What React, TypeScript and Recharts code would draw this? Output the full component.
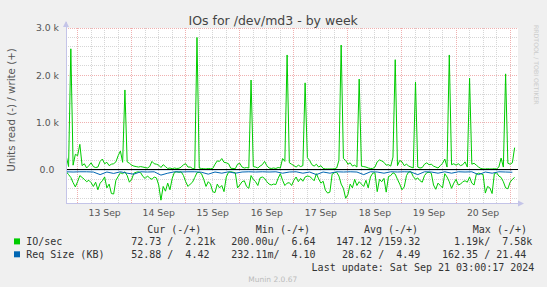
import React from 'react';
import { ComposedChart, Line, XAxis, YAxis, CartesianGrid, ReferenceLine } from 'recharts';

const SANS = '"DejaVu Sans", sans-serif';
const MONO = '"DejaVu Sans Mono", monospace';

const title = 'IOs for /dev/md3 - by week';
const yLabel = 'Units read (-) / write (+)';

// hourly samples, hour 0 = 13 Sep 00:00
const FIRST_HOUR = -5;

// IO/sec, write (+)
const writeIO = [
  282, 70, 2560, 100, 330, 300, 540, 90, 130, 40, 90, 150, 70,
  50, 60, 180, 230, 130, 160, 90, 120, 130, 170, 300, 400, 160, 1690, 170, 140, 100, 80, 70, 60, 70,
  60, 50, 40, 70, 180, 130, 120, 100, 50, 110, 70, 30, 40, 25, 40, 30, 35, 60, 110, 130, 60,
  60, 30, 20, 2800, 40, 30, 25, 20, 30, 25, 30, 120, 190, 180, 240, 160, 150, 130, 35, 30, 25,
  120, 140, 60, 40, 50, 40, 1900, 70, 60, 40, 80, 110, 180, 90, 40, 30, 40, 30, 50, 40,
  240, 180, 2430, 150, 120, 90, 60, 100, 70, 90, 1840, 260, 200, 110, 80, 120, 60, 90, 30, 20, 20,
  20, 20, 25, 40, 200, 2640, 240, 200, 120, 150, 80, 100, 60, 1920, 80, 70, 60, 40, 30, 30, 60,
  170, 210, 190, 160, 100, 110, 80, 270, 2330, 90, 200, 170, 90, 120, 80, 60, 40, 1860, 60, 40, 50,
  120, 150, 110, 120, 80, 60, 40, 90, 140, 230, 60, 2430, 110, 130, 100, 130, 90, 110, 170, 60, 1940,
  120, 140, 100, 60, 30, 20, 20, 25, 20, 20, 25, 20, 60, 250, 60, 2030, 140, 120, 150, 470,
];

// IO/sec, read (-)
const readIO = [
  -40, -100, -160, -270, -360, -250, -120, -160, -200, -250, -220, -270, -350,
  -260, -420, -280, -230, -150, -380, -300, -500, -510, -220, -140, -60, -80, -40, -120, -260, -200, -70, -50, -40, -60,
  -140, -180, -130, -170, -200, -150, -170, -320, -640, -350, -450, -280, -420, -180, -50, -40, -50, -40, -120, -250, -350,
  -300, -260, -160, -60, -50, -80, -200, -350, -250, -300, -460, -480, -300, -380, -330, -460, -150, -50, -40, -50, -60,
  -380, -320, -250, -230, -350, -390, -120, -200, -250, -330, -170, -150, -180, -250, -300, -320, -300, -310, -180, -80,
  -220, -330, -280, -270, -330, -220, -150, -250, -180, -240, -150, -130, -140, -180, -230, -80, -190, -280, -240, -430, -490,
  -470, -90, -60, -50, -130, -300, -390, -600, -520, -300, -380, -200, -330, -250, -300, -350, -220, -380, -150, -70, -60,
  -460, -200, -250, -180, -470, -140, -120, -60, -90, -200, -300, -420, -360, -120, -40, -40, -140, -200, -170, -230, -260,
  -120, -60, -50, -70, -320, -410, -280, -330, -380, -80, -150, -250, -390, -280, -200, -320, -300, -250, -230, -260, -150,
  -280, -320, -90, -70, -80, -100, -490, -350, -380, -500, -80, -60, -130, -160, -250, -380, -400, -260, -200, -160,
];

// Req Size (KB), read (-), every 3 hours
const sizeRead = [
  -40, -45, -40, -40, -45, -100, -45, -75, -40, -70,
  -90, -40, -45, -40, -110, -70, -40, -45, -40, -40,
  -50, -90, -45, -70, -40, -70, -45, -40, -45, -40,
  -45, -40, -70, -45, -40, -70, -45, -100, -45, -70,
  -40, -45, -40, -45, -100, -40, -45, -70, -40, -45,
  -40, -45, -100, -40, -45, -70, -40, -70, -40, -45,
  -40, -100, -45, -70, -40, -45, -50,
];

// Req Size (KB), write (+), every 6 hours
const sizeWrite = [
  4.5, 4.4, 4.6, 4.3, 4.8, 4.5, 4.2, 4.6, 5.1, 4.4,
  4.5, 4.3, 4.7, 4.4, 4.6, 4.2, 4.5, 4.9, 4.4, 4.3,
  4.6, 4.5, 4.1, 4.7, 4.4, 4.6, 4.5, 4.3, 4.8, 4.4,
  4.5, 4.6, 4.4, 4.4,
];

const dayHours = [12, 36, 60, 84, 108, 132, 156, 180];
const dayLabels = ['13 Sep', '14 Sep', '15 Sep', '16 Sep', '17 Sep', '18 Sep', '19 Sep', '20 Sep'];
const majorHours = [0, 24, 48, 72, 96, 120, 144, 168, 192];
const minorHours = [6, 12, 18, 30, 36, 42, 54, 60, 66, 78, 84, 90, 102, 108, 114, 126, 132, 138, 150, 156, 162, 174, 180, 186];
const yTicks = [0, 1000, 2000, 3000];
const majorValues = [1000, 2000, 3000];
const minorValues = [-600, -400, -200, 200, 400, 600, 800, 1200, 1400, 1600, 1800, 2200, 2400, 2600, 2800];

const legendHeader = ['Cur (-/+)', 'Min (-/+)', 'Avg (-/+)', 'Max (-/+)'];
const legendSeries = [
  { name: 'IO/sec', color: '#00cc00', values: ['72.73 /  2.21k', '200.00u/  6.64', '147.12 /159.32', '  1.19k/  7.58k'] },
  { name: 'Req Size (KB)', color: '#0066b3', values: ['52.88 /  4.42', '232.11m/  4.10', ' 28.62 /  4.49', '162.35 / 21.44'] },
];
const lastUpdate = 'Last update: Sat Sep 21 03:00:17 2024';

const App = () => {
  const rows = writeIO.map((w, i) => ({
    hour: FIRST_HOUR + i,
    write: w,
    read: readIO[i],
    sizeRead: i % 3 === 0 ? sizeRead[i / 3] : null,
    sizeWrite: i % 6 === 0 ? sizeWrite[i / 6] : null,
  }));

  const headerX = [147.2, 255.8, 363.9, 472.8];
  const valueX = [131.2, 231.3, 336, 442];
  const monoText = { fontFamily: MONO, fontSize: 10, fill: '#333333', whiteSpace: 'pre' as const };

  return (
    <div style={{ position: 'absolute', left: 0, top: 0, width: 547, height: 287, background: '#f0f0f0' }}>
      <ComposedChart width={547} height={287} data={rows} margin={{ top: 28, right: 29, bottom: 0, left: 0 }}>
        <CartesianGrid horizontal={false} vertical={false} fill="#ffffff" />
        {minorHours.map((h) => (
          <ReferenceLine key={'mh' + h} x={h} stroke="#d6d6d6" strokeDasharray="1 1" shapeRendering="crispEdges" />
        ))}
        {minorValues.map((v) => (
          <ReferenceLine key={'mv' + v} y={v} stroke="#d6d6d6" strokeDasharray="1 1" shapeRendering="crispEdges" />
        ))}
        {majorHours.map((h) => (
          <ReferenceLine key={'Mh' + h} x={h} stroke="#f0b0b0" strokeDasharray="1 1" shapeRendering="crispEdges" />
        ))}
        {majorValues.map((v) => (
          <ReferenceLine key={'Mv' + v} y={v} stroke="#f0b0b0" strokeDasharray="1 1" shapeRendering="crispEdges" />
        ))}
        <XAxis
          type="number"
          dataKey="hour"
          domain={[-5.15, 195.5]}
          allowDataOverflow
          ticks={dayHours}
          interval={0}
          tickFormatter={(h) => dayLabels[dayHours.indexOf(h)]}
          axisLine={false}
          tickLine={false}
          tickSize={0}
          tickMargin={6}
          height={84}
          tick={{ fill: '#555555', fontSize: 9.3, fontFamily: SANS }}
        />
        <YAxis
          type="number"
          domain={[-700, 3000]}
          allowDataOverflow
          ticks={yTicks}
          interval={0}
          tickFormatter={(v) => (v === 0 ? '0.0\u2002' : (v / 1000).toFixed(1) + ' k')}
          axisLine={false}
          tickLine={false}
          tickSize={0}
          tickMargin={7}
          width={66}
          tick={{ fill: '#555555', fontSize: 9.3, fontFamily: SANS }}
        />
        <Line dataKey="read" stroke="#00cc00" strokeWidth={1} dot={false} isAnimationActive={false} />
        <Line dataKey="write" stroke="#00cc00" strokeWidth={1} dot={false} isAnimationActive={false} />
        <Line dataKey="sizeRead" stroke="#0066b3" strokeWidth={1} dot={false} connectNulls isAnimationActive={false} />
        <Line dataKey="sizeWrite" stroke="#0066b3" strokeWidth={1} dot={false} connectNulls isAnimationActive={false} />
        <ReferenceLine y={0} stroke="#000000" strokeWidth={1} shapeRendering="crispEdges" />
      </ComposedChart>

      {/* frame, titles and munin-style legend */}
      <svg width={547} height={287} style={{ position: 'absolute', left: 0, top: 0, pointerEvents: 'none' }}>
        <line x1={66} y1={22} x2={66} y2={203.5} stroke="#c4c4e8" shapeRendering="crispEdges" />
        <line x1={66} y1={203.5} x2={522} y2={203.5} stroke="#c4c4e8" shapeRendering="crispEdges" />
        <polygon points="63,27 69,27 66,21" fill="#c4c4e8" />
        <polygon points="518,200.5 518,206.5 524,203.5" fill="#c4c4e8" />

        <text x={273.2} y={20.2} textAnchor="middle" dominantBaseline="central" fontFamily={SANS} fontSize={12.5} fill="#444444">
          {title}
        </text>
        <text
          x={10.5}
          y={110}
          textAnchor="middle"
          dominantBaseline="central"
          fontFamily={SANS}
          fontSize={10.3}
          fill="#555555"
          transform="rotate(-90 10.5 110)"
        >
          {yLabel}
        </text>
        <text
          x={536.7}
          y={25}
          dominantBaseline="central"
          fontFamily={SANS}
          fontSize={6.2}
          fill="#cccccc"
          transform="rotate(90 536.7 25)"
        >
          RRDTOOL / TOBI OETIKER
        </text>

        {legendHeader.map((h, i) => (
          <text key={h} x={headerX[i]} y={229.2} dominantBaseline="central" style={monoText}>
            {h}
          </text>
        ))}
        {legendSeries.map((s, r) => {
          const cy = r === 0 ? 241.4 : 254.3;
          return (
            <g key={s.name}>
              <rect x={14} y={cy - 3} width={6} height={6} fill={s.color} />
              <text x={26.2} y={cy} dominantBaseline="central" style={monoText}>
                {s.name}
              </text>
              {s.values.map((v, c) => (
                <text key={c} x={valueX[c]} y={cy} dominantBaseline="central" style={monoText}>
                  {v}
                </text>
              ))}
            </g>
          );
        })}
        <text x={311.6} y={267.2} dominantBaseline="central" style={monoText}>
          {lastUpdate}
        </text>
        <text x={272.8} y={279.4} textAnchor="middle" dominantBaseline="central" fontFamily={SANS} fontSize={7.5} fill="#bbbbbb">
          Munin 2.0.67
        </text>
      </svg>
    </div>
  );
};

export default App;
